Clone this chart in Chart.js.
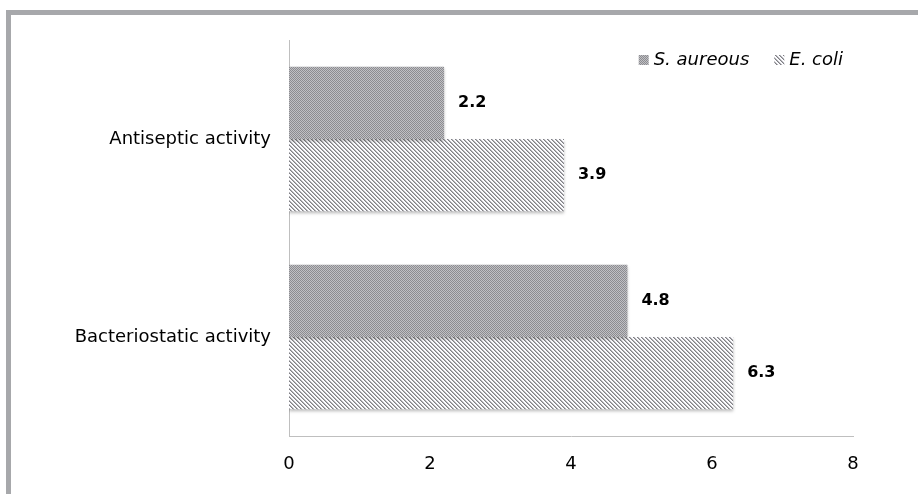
<!DOCTYPE html>
<html>
<head>
    <title>Antimicrobial activity</title>
    <script src="https://cdn.jsdelivr.net/npm/chart.js@4.4.0/dist/chart.umd.min.js"></script>
    <style>
        html, body { margin: 0; padding: 0; background: #fff; }
        #frame {
            position: absolute; left: 6px; top: 10px; width: 912px; height: 484px;
            border-top: 5px solid #a7a8ab; border-left: 5px solid #a7a8ab;
            box-sizing: border-box;
        }
        #wrap { position: absolute; left: 0; top: 0; width: 918px; height: 494px; }
    </style>
</head>
<body>
    <div id="frame"></div>
    <div id="wrap"><canvas id="chartCanvas" width="918" height="494"></canvas></div>

    <script>
        // Datele pentru grafic
        const categories = ['Antiseptic activity', 'Bacteriostatic activity'];
        const seriesNames = ['S. aureous', 'E. coli'];
        const sAureus = [2.2, 4.8];
        const eColi = [3.9, 6.3];
        const xTicks = [0, 2, 4, 6, 8];

        // Modele de hasurare
        function makePattern(fn) {
            const c = document.createElement('canvas');
            c.width = 4; c.height = 4;
            const g = c.getContext('2d');
            const img = g.createImageData(4, 4);
            for (let y = 0; y < 4; y++) {
                for (let x = 0; x < 4; x++) {
                    const v = fn(x, y);
                    const i = (y * 4 + x) * 4;
                    img.data[i] = v; img.data[i + 1] = v; img.data[i + 2] = v + 4; img.data[i + 3] = 255;
                }
            }
            g.putImageData(img, 0, 0);
            return g.createPattern(c, 'repeat');
        }
        const darkPattern = makePattern((x, y) => ((x + y) % 2 === 0 ? 140 : 192));
        const linePattern = makePattern((x, y) => {
            const d = ((x - y) % 4 + 4) % 4;
            return d === 0 ? 128 : (d === 1 ? 180 : 252);
        });

        // Etichete de valori la capatul barelor
        const valueLabels = {
            id: 'valueLabels',
            afterDatasetsDraw(chart) {
                const ctx = chart.ctx;
                ctx.save();
                ctx.font = 'bold 16px "DejaVu Sans"';
                ctx.fillStyle = '#000';
                ctx.textBaseline = 'middle';
                chart.data.datasets.forEach((ds, di) => {
                    chart.getDatasetMeta(di).data.forEach((bar, i) => {
                        ctx.fillText(ds.data[i].toFixed(1), bar.x + 14, bar.y);
                    });
                });
                ctx.restore();
            }
        };

        // Umbra discreta sub bare
        const barShadow = {
            id: 'barShadow',
            beforeDatasetsDraw(chart) {
                const ctx = chart.ctx;
                ctx.save();
                ctx.shadowColor = 'rgba(0,0,0,0.25)';
                ctx.shadowBlur = 3;
                ctx.shadowOffsetY = 2;
            },
            afterDatasetsDraw(chart) {
                chart.ctx.restore();
            }
        };

        // Legenda in coltul din dreapta sus
        const cornerLegend = {
            id: 'cornerLegend',
            afterDraw(chart) {
                const ctx = chart.ctx;
                ctx.save();
                ctx.font = 'italic 18px "DejaVu Sans"';
                ctx.textBaseline = 'middle';
                const y = 60;
                let x = 843;
                const items = chart.data.datasets.map(ds => ds).reverse();
                items.forEach(ds => {
                    const w = ctx.measureText(ds.label).width;
                    x -= w;
                    ctx.fillStyle = '#000';
                    ctx.fillText(ds.label, x, y);
                    ctx.fillStyle = ds.backgroundColor;
                    ctx.fillRect(x - 15, y - 5, 10, 10);
                    x -= 40;
                });
                ctx.restore();
            }
        };

        const ctx = document.getElementById('chartCanvas').getContext('2d');
        const chart = new Chart(ctx, {
            type: 'bar',
            data: {
                labels: categories,
                datasets: [
                    { label: seriesNames[0], data: sAureus, backgroundColor: darkPattern },
                    { label: seriesNames[1], data: eColi, backgroundColor: linePattern }
                ]
            },
            options: {
                indexAxis: 'y',
                responsive: false,
                animation: false,
                categoryPercentage: 0.73,
                barPercentage: 1,
                layout: { padding: { left: 0, right: 65, top: 40, bottom: 0 } },
                plugins: {
                    legend: { display: false },
                    tooltip: { enabled: false }
                },
                scales: {
                    x: {
                        min: 0, max: 8,
                        afterBuildTicks: s => { s.ticks = xTicks.map(v => ({ value: v })); },
                        grid: { display: false },
                        border: { display: true, color: '#bfbfbf', width: 1 },
                        ticks: { color: '#000', font: { family: 'DejaVu Sans', size: 18 }, padding: 10 },
                        afterFit: s => { s.height = 58; }
                    },
                    y: {
                        grid: { display: false },
                        border: { display: true, color: '#bfbfbf', width: 1 },
                        ticks: { color: '#000', font: { family: 'DejaVu Sans', size: 18 }, padding: 10 },
                        afterFit: s => { s.width = 289; }
                    }
                }
            },
            plugins: [barShadow, valueLabels, cornerLegend]
        });
    </script>
</body>
</html>
